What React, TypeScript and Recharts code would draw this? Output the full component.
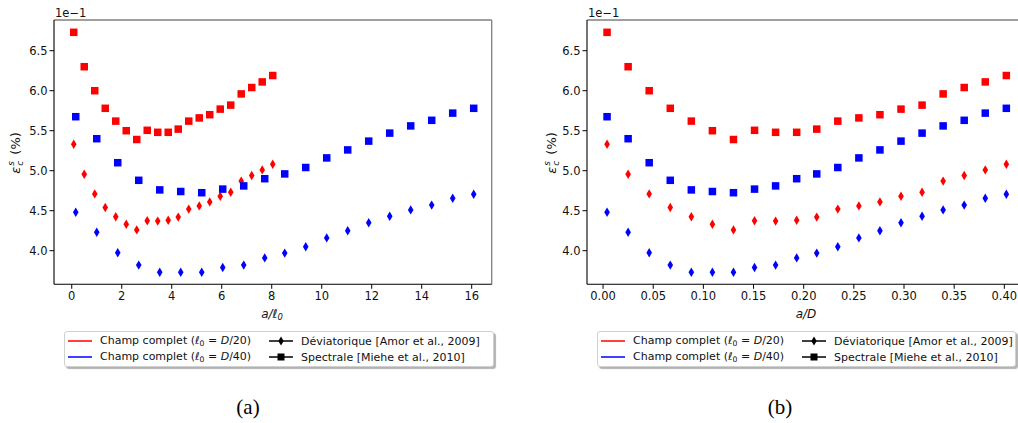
import React from 'react';
import { ScatterChart, Scatter, XAxis, YAxis, ReferenceLine } from 'recharts';

// a/D positions (shared by both meshes in panel b)
const aD = [0.004, 0.025, 0.046, 0.067, 0.088, 0.109, 0.130, 0.151, 0.172, 0.193, 0.213, 0.234, 0.255, 0.276, 0.297, 0.318, 0.339, 0.360, 0.381, 0.402];
// a/l0 positions in panel a
const aL0Red = [0.08, 0.50, 0.92, 1.34, 1.76, 2.18, 2.60, 3.02, 3.44, 3.86, 4.26, 4.68, 5.10, 5.52, 5.94, 6.36, 6.78, 7.20, 7.62, 8.04];
const aL0Blue = [0.16, 1.00, 1.84, 2.68, 3.52, 4.36, 5.20, 6.04, 6.88, 7.72, 8.52, 9.36, 10.20, 11.04, 11.88, 12.72, 13.56, 14.40, 15.24, 16.08];

// epsilon_c^s (x 1e-1 %)
const spectraleD20 = [6.73, 6.30, 6.00, 5.78, 5.62, 5.50, 5.39, 5.505, 5.48, 5.48, 5.52, 5.62, 5.66, 5.70, 5.77, 5.82, 5.96, 6.04, 6.11, 6.19];
const deviatoriqueD20 = [5.33, 4.955, 4.71, 4.54, 4.425, 4.33, 4.26, 4.375, 4.37, 4.38, 4.42, 4.52, 4.56, 4.61, 4.68, 4.73, 4.87, 4.94, 5.01, 5.08];
const spectraleD40 = [5.675, 5.40, 5.10, 4.88, 4.76, 4.74, 4.725, 4.77, 4.81, 4.90, 4.96, 5.04, 5.16, 5.26, 5.37, 5.47, 5.56, 5.63, 5.72, 5.78];
const deviatoriqueD40 = [4.48, 4.23, 3.975, 3.82, 3.73, 3.73, 3.73, 3.79, 3.82, 3.91, 3.97, 4.05, 4.16, 4.25, 4.35, 4.43, 4.51, 4.57, 4.655, 4.705];

const yTicks = [4.0, 4.5, 5.0, 5.5, 6.0, 6.5];
const xTicksA = [0, 2, 4, 6, 8, 10, 12, 14, 16];
const xTicksB = [0, 0.05, 0.1, 0.15, 0.2, 0.25, 0.3, 0.35, 0.4];

const yDomain: [number, number] = [3.58, 6.884];
const domainA: [number, number] = [-0.71, 16.8];
const domainB: [number, number] = [-0.016, 0.421];

const RED = '#ff0000';
const BLUE = '#0000ff';
const FONT = '"DejaVu Sans", sans-serif';

const zip = (xs: number[], ys: number[]) => xs.map((x, i) => ({ x, y: ys[i] }));

const SquareShape = (props: any) => {
  const { cx, cy, fill } = props;
  return <rect x={cx - 3.75} y={cy - 3.75} width={7.5} height={7.5} fill={fill} />;
};

const ThinDiamond = (props: any) => {
  const { cx, cy, fill } = props;
  return <polygon points={`${cx},${cy - 4.7} ${cx + 2.8},${cy} ${cx},${cy + 4.7} ${cx - 2.8},${cy}`} fill={fill} />;
};

const tickStyle = { fill: '#111', fontSize: 11.5, fontFamily: FONT };

interface PanelProps {
  left: number;
  width: number;
  marginRight: number;
  xDomain: [number, number];
  xTicks: number[];
  xFmt: (v: number) => string;
  redX: number[];
  blueX: number[];
}

function Panel({ left, width, marginRight, xDomain, xTicks, xFmt, redX, blueX }: PanelProps) {
  return (
    <div style={{ position: 'absolute', left, top: 0 }}>
      <ScatterChart width={width} height={330} margin={{ top: 20, right: marginRight, left: 0, bottom: 15.7 }}>
        <XAxis
          type="number"
          dataKey="x"
          domain={xDomain}
          ticks={xTicks}
          interval={0}
          allowDataOverflow
          tickFormatter={xFmt}
          tick={tickStyle}
          tickSize={4.5}
          tickMargin={3.5}
          axisLine={{ stroke: '#000', strokeWidth: 1.1 }}
          tickLine={{ stroke: '#000', strokeWidth: 1 }}
          height={30}
        />
        <YAxis
          type="number"
          dataKey="y"
          domain={yDomain}
          ticks={yTicks}
          interval={0}
          allowDataOverflow
          tickFormatter={(v: number) => v.toFixed(1)}
          tick={tickStyle}
          tickSize={4.5}
          tickMargin={2}
          axisLine={{ stroke: '#000', strokeWidth: 1.1 }}
          tickLine={{ stroke: '#000', strokeWidth: 1 }}
          width={54}
        />
        <ReferenceLine y={yDomain[1]} stroke="#7f7f7f" strokeWidth={1.3} />
        <ReferenceLine x={xDomain[1]} stroke="#7f7f7f" strokeWidth={1.3} />
        <Scatter data={zip(redX, spectraleD20)} fill={RED} shape={SquareShape} isAnimationActive={false} />
        <Scatter data={zip(redX, deviatoriqueD20)} fill={RED} shape={ThinDiamond} isAnimationActive={false} />
        <Scatter data={zip(blueX, spectraleD40)} fill={BLUE} shape={SquareShape} isAnimationActive={false} />
        <Scatter data={zip(blueX, deviatoriqueD40)} fill={BLUE} shape={ThinDiamond} isAnimationActive={false} />
      </ScatterChart>
    </div>
  );
}

const Ell0 = () => (
  <span>
    <i>ℓ</i>
    <sub style={{ fontSize: '0.7em', verticalAlign: '-0.25em' }}>0</sub>
  </span>
);

function YLabel({ x }: { x: number }) {
  return (
    <div
      style={{
        position: 'absolute', left: x, top: 153, transform: 'translate(-50%, -50%) rotate(-90deg)',
        whiteSpace: 'nowrap', fontSize: 13, fontFamily: FONT, color: '#111', lineHeight: 1,
      }}
    >
      <i>ε</i>
      <span style={{ display: 'inline-block', verticalAlign: 'middle', fontSize: 9, lineHeight: 0.95, marginLeft: 1, marginRight: 2 }}>
        <i style={{ display: 'block' }}>s</i>
        <i style={{ display: 'block' }}>c</i>
      </span>
      {' (%)'}
    </div>
  );
}

function LegendIcon({ color, marker }: { color: string; marker?: 'd' | 's' }) {
  return (
    <svg width={24} height={10} style={{ display: 'block' }}>
      <line x1={0} y1={5} x2={24} y2={5} stroke={color} strokeWidth={1.5} />
      {marker === 'd' && <polygon points="12,0.4 14.7,5 12,9.6 9.3,5" fill={color} />}
      {marker === 's' && <rect x={8.5} y={1.5} width={7} height={7} fill={color} />}
    </svg>
  );
}

function LegendBox({ left, width }: { left: number; width: number }) {
  const row = (top: number, children: React.ReactNode, x: number) => (
    <div style={{ position: 'absolute', left: x, top, height: 14, display: 'flex', alignItems: 'center', whiteSpace: 'nowrap' }}>
      {children}
    </div>
  );
  const text = (t: React.ReactNode) => <span style={{ marginLeft: 8 }}>{t}</span>;
  return (
    <div
      style={{
        position: 'absolute', left, top: 331, width, height: 36, background: '#fff',
        border: '1px solid #d0d0d0', borderRadius: 3, boxShadow: '2px 2px 1px rgba(0,0,0,0.3)',
        fontSize: 11, fontFamily: FONT, color: '#111', boxSizing: 'border-box',
      }}
    >
      {row(2, <><LegendIcon color={RED} />{text(<>Champ complet (<Ell0 /> = <i>D</i>/20)</>)}</>, 3)}
      {row(18, <><LegendIcon color={BLUE} />{text(<>Champ complet (<Ell0 /> = <i>D</i>/40)</>)}</>, 3)}
      {row(2, <><LegendIcon color="#000" marker="d" />{text('Déviatorique [Amor et al., 2009]')}</>, 204)}
      {row(18, <><LegendIcon color="#000" marker="s" />{text('Spectrale [Miehe et al., 2010]')}</>, 204)}
    </div>
  );
}

const xLabelStyle: React.CSSProperties = {
  position: 'absolute', top: 307, transform: 'translateX(-50%)', fontSize: 12,
  fontFamily: FONT, fontStyle: 'italic', color: '#111', whiteSpace: 'nowrap',
};

const captionStyle: React.CSSProperties = {
  position: 'absolute', top: 395, transform: 'translateX(-50%)', fontSize: 21,
  fontFamily: '"Liberation Serif", serif', color: '#000', lineHeight: '24px',
};

export default function App() {
  return (
    <div style={{ position: 'absolute', left: 0, top: 0, width: 1018, height: 423, overflow: 'hidden', background: '#fff' }}>
      <Panel
        left={0}
        width={500}
        marginRight={8.3}
        xDomain={domainA}
        xTicks={xTicksA}
        xFmt={(v) => String(v)}
        redX={aL0Red}
        blueX={aL0Blue}
      />
      <Panel
        left={533}
        width={500}
        marginRight={7.6}
        xDomain={domainB}
        xTicks={xTicksB}
        xFmt={(v) => v.toFixed(2)}
        redX={aD}
        blueX={aD}
      />

      <div style={{ position: 'absolute', left: 55, top: 6, fontSize: 11.5, fontFamily: FONT, color: '#111' }}>1e−1</div>
      <div style={{ position: 'absolute', left: 588, top: 6, fontSize: 11.5, fontFamily: FONT, color: '#111' }}>1e−1</div>

      <YLabel x={16} />
      <YLabel x={552} />

      <div style={{ ...xLabelStyle, left: 272 }}>a/<Ell0 /></div>
      <div style={{ ...xLabelStyle, left: 806 }}>a/D</div>

      <LegendBox left={64} width={430} />
      <LegendBox left={597} width={419} />

      <div style={{ ...captionStyle, left: 248 }}>(a)</div>
      <div style={{ ...captionStyle, left: 780 }}>(b)</div>
    </div>
  );
}
